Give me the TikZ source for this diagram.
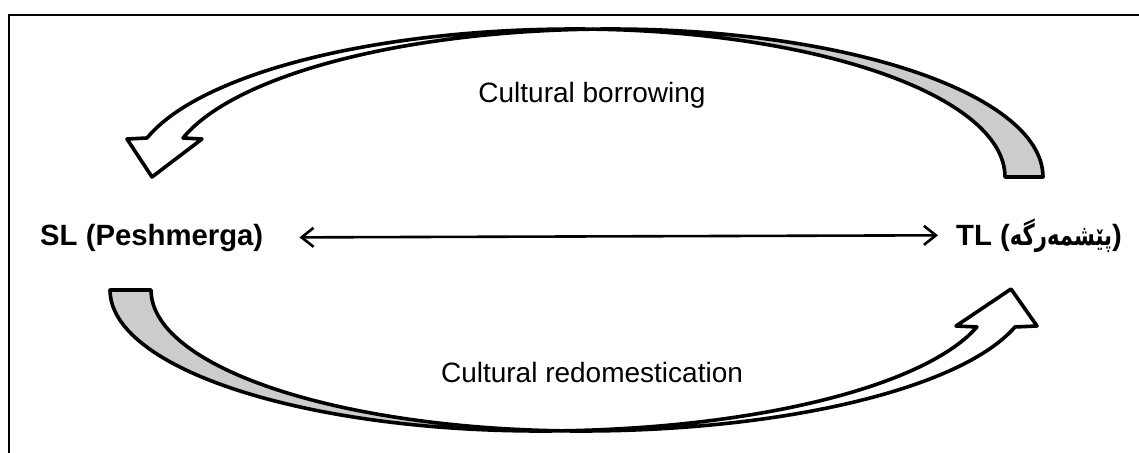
\documentclass[tikz,border=0pt]{standalone}
\usepackage{fontspec}
\setmainfont{Liberation Sans}
\newfontfamily\arabicfont[Script=Arabic, FakeStretch=0.72]{DejaVu Sans}
\TeXXeTstate=1
\usetikzlibrary{arrows.meta}
\tikzset{
  back/.style={fill=black!20, draw=black, line width=3.6pt, line join=round},
  front/.style={fill=white, draw=black, line width=3.6pt, line join=round},
  lang/.style={font=\fontsize{29.3}{33}\selectfont\bfseries, inner sep=0pt},
  caption/.style={font=\fontsize{28}{32}\selectfont, inner sep=0pt},
  link/.style={line width=2.6pt, {Straight Barb[length=12pt,width=19pt,line width=2.6pt]}-{Straight Barb[length=12pt,width=19pt,line width=2.6pt]}}
}
\begin{document}
\begin{tikzpicture}[x=1pt, y=-1pt]
\useasboundingbox (0,0) rectangle (1139,452);
\clip (0,0) rectangle (1139,452);
\fill[white] (0,0) rectangle (1139,452);
% outer frame
\draw[line width=2.6pt] (9,15) rectangle (1170,480);

% upper curved arrow: shaded back face at the tail
\filldraw[back]
  (1043,177)
  -- plot[domain=0:90, samples=60, variable=\t] ({611+432*cos(\t)},{177-148*sin(\t)})
  -- plot[domain=90:92.36, samples=4, variable=\t] ({611+443.7*cos(\t)},{177-148*sin(\t)})
  -- plot[domain=87.64:0, samples=60, variable=\t] ({575+430*cos(\t)},{177-148*sin(\t)})
  -- cycle;
% upper curved arrow: front face with head
\filldraw[front]
  plot[domain=87.64:90, samples=4, variable=\t] ({575+430*cos(\t)},{177-148*sin(\t)})
  -- plot[domain=90:164.72, samples=60, variable=\t] ({575+443.7*cos(\t)},{177-148*sin(\t)})
  -- (127,139) -- (152,177) -- (202,139)
  -- plot[domain=164.72:92.36, samples=60, variable=\t] ({611+443.7*cos(\t)},{177-148*sin(\t)})
  -- cycle;

% lower curved arrow: shaded back face at the tail
\filldraw[back]
  (110,290)
  -- plot[domain=180:90, samples=60, variable=\t] ({540+430*cos(\t)},{290+141*sin(\t)})
  -- plot[domain=90:87.34, samples=4, variable=\t] ({540+452.8*cos(\t)},{290+141*sin(\t)})
  -- plot[domain=92.67:180, samples=60, variable=\t] ({581+430*cos(\t)},{290+141*sin(\t)})
  -- cycle;
% lower curved arrow: front face with head
\filldraw[front]
  plot[domain=87.34:15.21, samples=60, variable=\t] ({540+452.8*cos(\t)},{290+141*sin(\t)})
  -- (956,326) -- (1011,289) -- (1037,326)
  -- plot[domain=15.21:90, samples=60, variable=\t] ({581+449.7*cos(\t)},{290+141*sin(\t)})
  -- plot[domain=90:92.67, samples=4, variable=\t] ({581+430*cos(\t)},{290+141*sin(\t)})
  -- cycle;

% labels
\node[lang, anchor=base west] (sl) at (40,245) {SL (Peshmerga)};
\node[lang, anchor=base east] (tl) at (1122,245) {TL ({\arabicfont\bfseries\beginR پێشمەرگە\endR})};
\node[caption, anchor=base] (borrow) at (592,102) {Cultural borrowing};
\node[caption, anchor=base] (redom) at (592,382) {Cultural redomestication};

% two-way link between the languages
\draw[link, shorten <=36pt, shorten >=18pt] (sl.east) -- (tl.west);
\end{tikzpicture}
\end{document}
